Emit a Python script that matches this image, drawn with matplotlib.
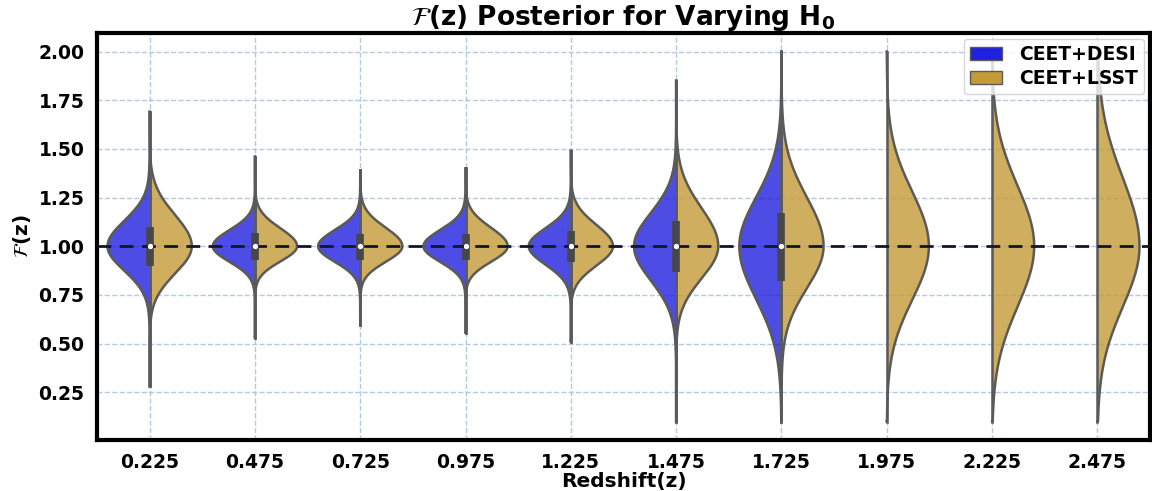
import numpy as np
import matplotlib
matplotlib.use("Agg")
import matplotlib.pyplot as plt
from matplotlib.patches import Patch

# redshift bins (x categories)
z_labels = ['0.225', '0.475', '0.725', '0.975', '1.225',
            '1.475', '1.725', '1.975', '2.225', '2.475']

# CEET+DESI posterior shapes (only first 7 bins)
desi_sig_hi = [0.13, 0.083, 0.083, 0.083, 0.092, 0.17, 0.25]
desi_sig_lo = [0.125, 0.08, 0.08, 0.08, 0.094, 0.175, 0.27]
desi_q1 = [0.90, 0.93, 0.93, 0.93, 0.92, 0.87, 0.82]
desi_q3 = [1.10, 1.07, 1.065, 1.065, 1.08, 1.13, 1.17]

# CEET+LSST posterior shapes (all bins)
lsst_sig_hi = [0.16, 0.092, 0.095, 0.095, 0.11, 0.195, 0.25, 0.28, 0.31, 0.35]
lsst_sig_lo = [0.14, 0.078, 0.08, 0.08, 0.10, 0.165, 0.215, 0.275, 0.31, 0.31]

# sample extents (tails)
tail_hi = [1.69, 1.46, 1.39, 1.40, 1.49, 1.85, 2.00, 2.00, 1.99, 1.98]
tail_lo = [0.28, 0.53, 0.595, 0.556, 0.51, 0.10, 0.10, 0.10, 0.10, 0.10]

desi_col = '#2020df'
lsst_col = '#c39b37'
edge = '#5a5a5a'

fig = plt.figure(figsize=(11.52, 4.91), dpi=100)
ax = fig.add_axes([97/1152, 1 - 440/491, (1150 - 97)/1152, (440 - 33)/491])

ax.grid(True, linestyle='--', color='#a3c2dd', linewidth=1, alpha=0.85, zorder=0)
ax.set_axisbelow(True)


def half_violin(x0, lo, hi, s_hi, s_lo, side, color):
    y = np.linspace(lo, hi, 400)
    d = y - 1.0
    s = np.where(d > 0, s_hi, s_lo)
    w = 0.4 * np.exp(-0.5 * (d / s) ** 2) * side
    ax.fill_betweenx(y, x0, x0 + w, facecolor=color, alpha=0.8, edgecolor='none', zorder=2)
    ax.plot(np.r_[x0, x0 + w, x0], np.r_[lo, y, hi], color=edge, lw=1.8, zorder=3)
    ax.plot([x0, x0], [lo, hi], color=edge, lw=1.8, zorder=3)


for i in range(len(z_labels)):
    if i < len(desi_sig_hi):
        half_violin(i, tail_lo[i], tail_hi[i], desi_sig_hi[i], desi_sig_lo[i], -1, desi_col)
    half_violin(i, tail_lo[i], tail_hi[i], lsst_sig_hi[i], lsst_sig_lo[i], 1, lsst_col)

# inner boxes
for i in range(len(desi_q1)):
    ax.plot([i, i], [desi_q1[i], desi_q3[i]], color='#474747', lw=5.5, solid_capstyle='butt', zorder=4)
    ax.plot(i, 1.0, 'o', color='white', markersize=2.8, zorder=5)

ax.axhline(1.0, color='#101828', linestyle='--', lw=2, dashes=(5, 3), zorder=4.5)

ax.set_xlim(-0.5, 9.5)
ax.set_ylim(0.005, 2.095)
ax.set_xticks(range(len(z_labels)))
ax.set_xticklabels(z_labels)
ax.set_yticks([0.25, 0.5, 0.75, 1.0, 1.25, 1.5, 1.75, 2.0])
ax.tick_params(length=0, labelsize=13.5, pad=9)
for lab in ax.get_xticklabels() + ax.get_yticklabels():
    lab.set_fontweight('bold')

for sp in ax.spines.values():
    sp.set_linewidth(3)
    sp.set_color('black')

ax.set_xlabel('Redshift(z)', fontsize=14.5, fontweight='bold', labelpad=0)
ax.set_ylabel(r'$\mathcal{F}$(z)', fontsize=14.5, fontweight='bold', labelpad=4)
ax.set_title(r'$\mathcal{F}$(z) Posterior for Varying $\mathbf{H_0}$', fontsize=19, fontweight='bold', pad=4)

handles = [Patch(facecolor=desi_col, edgecolor=edge, label='CEET+DESI'),
           Patch(facecolor=lsst_col, edgecolor=edge, label='CEET+LSST')]
ax.legend(handles=handles, loc='upper right', prop={'weight': 'bold', 'size': 13.5},
          borderaxespad=0.3, handlelength=1.7, handletextpad=0.9,
          labelspacing=0.25, borderpad=0.35)

fig.savefig('out.png', dpi=100)
